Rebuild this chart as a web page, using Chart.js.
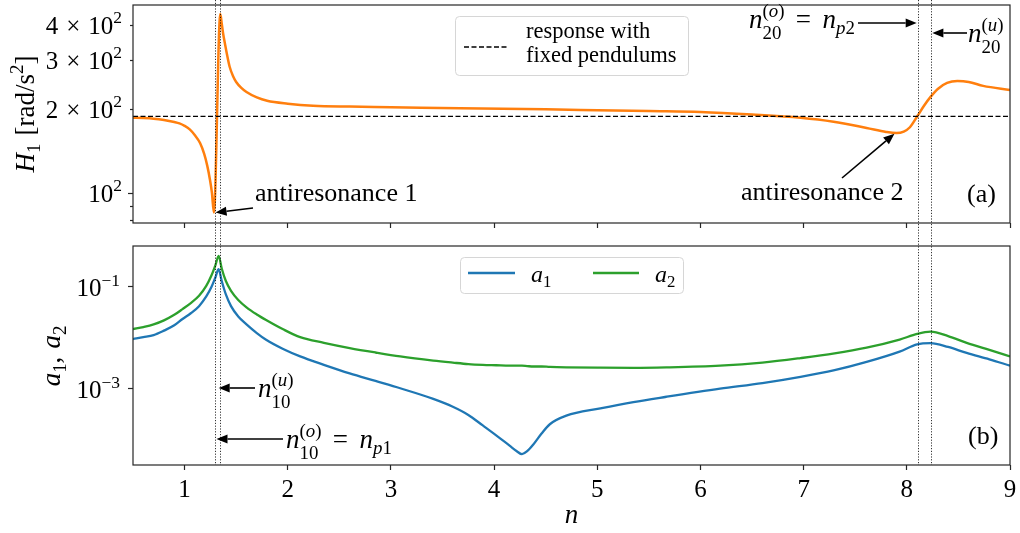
<!DOCTYPE html>
<html>
<head>
<meta charset="utf-8">
<script src="https://cdn.jsdelivr.net/npm/chart.js@4.4.1/dist/chart.umd.min.js"></script>
<style>
  html, body { margin: 0; padding: 0; background: #fff; }
  #wrap { position: relative; width: 1020px; height: 533px; }
  #wrap canvas { position: absolute; left: 0; top: 0; }
</style>
</head>
<body>
<div id="wrap">
  <canvas id="top" width="1020" height="533"></canvas>
  <canvas id="bot" width="1020" height="533"></canvas>
</div>
<script>
// (a) H1 response
const nH1 = [0.5, 0.6, 0.7, 0.8, 0.9, 0.95, 1.0, 1.05, 1.1, 1.15, 1.19, 1.22, 1.245, 1.265, 1.284,
  1.346, 1.36, 1.375, 1.39, 1.41, 1.436, 1.47, 1.5, 1.55, 1.6, 1.7, 1.8, 2.0, 2.245, 2.6, 3.0, 3.67,
  4.5, 5.0, 5.5, 6.0, 6.5, 6.97, 7.29, 7.61, 7.8, 7.9, 7.97, 8.03, 8.1, 8.165, 8.23, 8.3, 8.39, 8.49,
  8.6, 8.74, 9.0];
const h1Vals = [186, 185.5, 184.5, 182.5, 179.5, 177.5, 174, 169, 161, 151, 138, 125, 112, 100, 85,
  438, 405, 370, 345, 315, 284, 262, 250, 238, 230, 220, 214, 209, 205.5, 204, 203, 201,
  199.5, 198, 196.5, 195, 191, 186, 180, 171, 165.5, 164, 166, 172, 188, 205, 221, 236, 248, 252,
  250, 242, 234];
const fixedN = [0.5, 9];
const fixedH = [188, 188];

// (b) amplitudes
const nA = [0.5, 0.6, 0.7, 0.8, 0.9, 0.98, 1.06, 1.14, 1.21, 1.26, 1.30, 1.33, 1.36, 1.40, 1.45, 1.52,
  1.6, 1.7, 1.79, 1.95, 2.12, 2.35, 2.6, 2.85, 3.09, 3.41, 3.6, 3.75, 3.89, 4.02, 4.15, 4.22, 4.27,
  4.32, 4.38, 4.46, 4.54, 4.70, 5.03, 5.35, 5.67, 6.19, 6.6, 6.97, 7.3, 7.61, 7.93, 8.1, 8.23, 8.4,
  8.58, 8.8, 9.0];
const a1Vals = [0.0090, 0.0098, 0.0108, 0.0132, 0.0168, 0.0224, 0.029, 0.040, 0.062, 0.095, 0.15, 0.214,
  0.125, 0.068, 0.040, 0.025, 0.0175, 0.0118, 0.0087, 0.0058, 0.0041, 0.0028, 0.0019, 0.00135, 0.00097,
  0.00060, 0.00042, 0.00029, 0.00018, 0.000115, 0.000072, 0.000056, 0.000049, 0.000056, 0.000076,
  0.000125, 0.00019, 0.00028, 0.00039, 0.00052, 0.00066, 0.00095, 0.00122, 0.00162, 0.0022, 0.0032,
  0.0051, 0.0071, 0.0075, 0.0063, 0.0048, 0.0036, 0.0027];
const a2Vals = [0.0141, 0.0155, 0.0175, 0.021, 0.027, 0.035, 0.046, 0.064, 0.10, 0.16, 0.26, 0.39,
  0.22, 0.125, 0.080, 0.053, 0.038, 0.0275, 0.0214, 0.0142, 0.0098, 0.0076, 0.0060, 0.0049, 0.0041,
  0.0034, 0.0031, 0.0029, 0.0028, 0.00275, 0.0027, 0.0027, 0.0027, 0.00265, 0.0026, 0.0026, 0.00255,
  0.0025, 0.00246, 0.00245, 0.0025, 0.0027, 0.0031, 0.0038, 0.0047, 0.0061, 0.0088, 0.0114, 0.0126,
  0.0103, 0.0076, 0.0055, 0.0041];

// ticks and markers
const xTicks = [1, 2, 3, 4, 5, 6, 7, 8, 9];
const topMajor = [100];
const topMinor = [80, 90, 200, 300, 400];
const topLabels = [100, 200, 300, 400];
const botMajor = [0.1, 0.001];
const markN = [1.29, 1.34, 8.105, 8.233];

const FONT = '"Liberation Serif", "DejaVu Serif", serif';
const FS = 25;   // tick labels
const FA = 27;   // axis labels and math annotations

// little math text helper: parts with italic / sub / sup
const R = (t, o) => Object.assign({ t }, o);
const I = t => ({ t, i: true });
const Sb = (t, o) => Object.assign({ t, s: 0.7, dy: 0.22 }, o);
const Sp = (t, o) => Object.assign({ t, s: 0.7, dy: -0.42 }, o);

function layoutMath(ctx, parts, fs) {
  let cur = 0, markX = 0, saved = 0;
  const items = [];
  parts.forEach(p => {
    if (p.back) { saved = cur; cur = markX; }
    if (p.mark) markX = cur;
    cur += (p.pl || 0) * fs;
    const font = (p.i ? 'italic ' : '') + (fs * (p.s || 1)).toFixed(1) + 'px ' + FONT;
    ctx.font = font;
    const w = ctx.measureText(p.t).width;
    items.push({ t: p.t, font, x: cur, dy: (p.dy || 0) * fs });
    cur += w + (p.pr || 0) * fs;
    if (p.end) cur = Math.max(cur, saved);
  });
  return { items, width: cur };
}

function drawMath(ctx, parts, x, y, fs, align, rot) {
  const L = layoutMath(ctx, parts, fs);
  const x0 = align === 'center' ? -L.width / 2 : align === 'right' ? -L.width : 0;
  ctx.save();
  ctx.translate(x, y);
  if (rot) ctx.rotate(rot);
  ctx.fillStyle = '#000';
  ctx.textAlign = 'left';
  ctx.textBaseline = 'alphabetic';
  L.items.forEach(it => { ctx.font = it.font; ctx.fillText(it.t, x0 + it.x, it.dy); });
  ctx.restore();
}

function arrow(ctx, x1, y1, x2, y2) {
  const a = Math.atan2(y2 - y1, x2 - x1), hl = 11, hw = 4.5;
  const bx = x2 - hl * Math.cos(a), by = y2 - hl * Math.sin(a);
  ctx.save();
  ctx.strokeStyle = '#000';
  ctx.fillStyle = '#000';
  ctx.lineWidth = 1.6;
  ctx.beginPath(); ctx.moveTo(x1, y1); ctx.lineTo(bx, by); ctx.stroke();
  ctx.beginPath();
  ctx.moveTo(x2, y2);
  ctx.lineTo(bx + hw * Math.sin(a), by - hw * Math.cos(a));
  ctx.lineTo(bx - hw * Math.sin(a), by + hw * Math.cos(a));
  ctx.closePath(); ctx.fill();
  ctx.restore();
}

function frame(ctx, a) {
  ctx.save();
  ctx.strokeStyle = '#262626';
  ctx.lineWidth = 1.2;
  ctx.strokeRect(a.left, a.top, a.right - a.left, a.bottom - a.top);
  ctx.restore();
}

function yTick(ctx, a, y, len) {
  ctx.save();
  ctx.strokeStyle = '#262626';
  ctx.lineWidth = 1.2;
  ctx.beginPath(); ctx.moveTo(a.left - len, Math.round(y) + 0.5); ctx.lineTo(a.left, Math.round(y) + 0.5); ctx.stroke();
  ctx.restore();
}

function legendBox(ctx, x, y, w, h) {
  ctx.save();
  ctx.beginPath();
  ctx.roundRect(x + 0.5, y + 0.5, w, h, 4);
  ctx.fillStyle = 'rgba(255,255,255,0.8)';
  ctx.fill();
  ctx.strokeStyle = '#d6d6d6';
  ctx.lineWidth = 1;
  ctx.stroke();
  ctx.restore();
}

function sample(ctx, x1, x2, y, color, width, dash) {
  ctx.save();
  ctx.strokeStyle = color;
  ctx.lineWidth = width;
  ctx.setLineDash(dash || []);
  ctx.beginPath(); ctx.moveTo(x1, y); ctx.lineTo(x2, y); ctx.stroke();
  ctx.restore();
}

// n_{sub}^{(sup)} with optional " = n_{p k}"
function nLabel(sub, sup, pk) {
  const parts = [I('n'), Sb(sub, { dy: 0.42, mark: true }), Sp('(', { back: true }), Sp(sup, { i: true }), Sp(')', { end: true })];
  if (pk) parts.push(R('=', { pl: 0.42, pr: 0.42 }), I('n'), Sb('p', { i: true }), Sb(pk));
  return parts;
}

function xAxis(h) {
  return {
    type: 'linear', min: 0.5, max: 9,
    afterBuildTicks: s => { s.ticks = xTicks.map(v => ({ value: v })); },
    afterFit: s => { s.height = h; },
    ticks: { display: false },
    grid: { drawOnChartArea: false, drawTicks: true, tickLength: 5, tickColor: '#262626', tickWidth: 1.2 },
    border: { display: false }
  };
}

function yAxis(min, max) {
  return {
    type: 'logarithmic', min, max, bounds: 'data',
    afterFit: s => { s.width = 133; },
    ticks: { display: false },
    grid: { display: false },
    border: { display: false }
  };
}

const topDeco = {
  id: 'topDeco',
  afterDraw(chart) {
    const ctx = chart.ctx, a = chart.chartArea, xs = chart.scales.x, ys = chart.scales.y;
    frame(ctx, a);
    topMajor.forEach(v => yTick(ctx, a, ys.getPixelForValue(v), 5));
    topMinor.forEach(v => yTick(ctx, a, ys.getPixelForValue(v), 3));
    topLabels.forEach(v => {
      const m = v / 100;
      const parts = m === 1 ? [R('10'), Sp('2')] : [R(String(m)), R('×', { pl: 0.32, pr: 0.32 }), R('10'), Sp('2')];
      drawMath(ctx, parts, 122, ys.getPixelForValue(v) + 8.7, FS, 'right');
    });
    drawMath(ctx, [I('H'), Sb('1'), R('[rad/s', { pl: 0.3 }), Sp('2'), R(']')], 34, (a.top + a.bottom) / 2, FA, 'center', -Math.PI / 2);

    // legend
    legendBox(ctx, 455, 16, 233, 59);
    sample(ctx, 464, 508, 47, '#000', 1.3, [5, 2.5]);
    ctx.save();
    ctx.fillStyle = '#000';
    ctx.font = '22.5px ' + FONT;
    ctx.fillText('response with', 526, 38);
    ctx.fillText('fixed pendulums', 526, 62);
    ctx.restore();

    // annotations
    ctx.save();
    ctx.fillStyle = '#000';
    ctx.font = '26px ' + FONT;
    ctx.fillText('antiresonance 1', 255, 201);
    ctx.fillText('antiresonance 2', 741, 200);
    ctx.fillText('(a)', 967, 202);
    ctx.restore();
    arrow(ctx, 253, 208, xs.getPixelForValue(1.30), ys.getPixelForValue(85));
    arrow(ctx, 842, 178, xs.getPixelForValue(7.88), ys.getPixelForValue(163));

    drawMath(ctx, nLabel('20', 'o', '2'), 749, 28, FA, 'left');
    arrow(ctx, 858, 23, xs.getPixelForValue(8.105) - 1, 23);
    drawMath(ctx, nLabel('20', 'u'), 968, 42, FA, 'left');
    arrow(ctx, 967, 33, xs.getPixelForValue(8.233) + 1.5, 33);
  }
};

const botDeco = {
  id: 'botDeco',
  afterDraw(chart) {
    const ctx = chart.ctx, a = chart.chartArea, xs = chart.scales.x, ys = chart.scales.y;
    frame(ctx, a);
    botMajor.forEach(v => {
      const y = ys.getPixelForValue(v);
      yTick(ctx, a, y, 5);
      drawMath(ctx, [R('10'), Sp('−' + Math.round(-Math.log10(v)))], 120, y + 10.5, FS, 'right');
    });
    drawMath(ctx, [I('a'), Sb('1'), R(','), I('a', {}), Sb('2')].map((p, i) => i === 3 ? Object.assign(p, { pl: 0.3 }) : p),
      60, 356, FA, 'center', -Math.PI / 2);

    // x tick labels and title
    ctx.save();
    ctx.fillStyle = '#000';
    ctx.font = FS + 'px ' + FONT;
    ctx.textAlign = 'center';
    xs.ticks.forEach(t => ctx.fillText(String(t.value), xs.getPixelForValue(t.value), 497));
    ctx.font = 'italic 27px ' + FONT;
    ctx.fillText('n', (a.left + a.right) / 2, 523);
    ctx.restore();

    // legend
    legendBox(ctx, 460, 257, 223, 36);
    sample(ctx, 468, 515, 273, '#1f77b4', 2.3);
    sample(ctx, 593, 639, 273, '#2ca02c', 2.3);
    drawMath(ctx, [I('a'), Sb('1')], 531, 282, 24, 'left');
    drawMath(ctx, [I('a'), Sb('2')], 655, 282, 24, 'left');

    // annotations
    ctx.save();
    ctx.fillStyle = '#000';
    ctx.font = '26px ' + FONT;
    ctx.fillText('(b)', 968, 444);
    ctx.restore();
    drawMath(ctx, nLabel('10', 'u'), 258, 397, FA, 'left');
    arrow(ctx, 255, 388, xs.getPixelForValue(1.34) - 1, 388);
    drawMath(ctx, nLabel('10', 'o', '1'), 286, 448, FA, 'left');
    arrow(ctx, 283, 439, xs.getPixelForValue(1.29) + 2, 439);

    // dotted markers through both panels
    ctx.save();
    ctx.strokeStyle = 'rgba(0,0,0,0.8)';
    ctx.lineWidth = 1;
    ctx.setLineDash([1.2, 1.6]);
    markN.forEach(n => {
      const x = Math.round(xs.getPixelForValue(n)) + 0.5;
      ctx.beginPath(); ctx.moveTo(x, 0); ctx.lineTo(x, a.bottom); ctx.stroke();
    });
    ctx.restore();
  }
};

const base = {
  responsive: false,
  animation: false,
  events: [],
  plugins: { legend: { display: false }, tooltip: { enabled: false } }
};

new Chart(document.getElementById('top'), {
  type: 'line',
  data: {
    datasets: [
      { data: fixedN.map((n, i) => ({ x: n, y: fixedH[i] })), borderColor: '#000', borderWidth: 1.3,
        borderDash: [5, 2.5], pointRadius: 0 },
      { data: nH1.map((n, i) => ({ x: n, y: h1Vals[i] })), borderColor: '#ff7f0e', borderWidth: 2.5,
        pointRadius: 0, cubicInterpolationMode: 'monotone' }
    ]
  },
  options: Object.assign({}, base, {
    layout: { padding: { top: 5, right: 10, left: 0, bottom: 0 } },
    scales: { x: xAxis(310), y: yAxis(78, 472) }
  }),
  plugins: [topDeco]
});

new Chart(document.getElementById('bot'), {
  type: 'line',
  data: {
    datasets: [
      { data: nA.map((n, i) => ({ x: n, y: a1Vals[i] })), borderColor: '#1f77b4', borderWidth: 2.3,
        pointRadius: 0, cubicInterpolationMode: 'monotone' },
      { data: nA.map((n, i) => ({ x: n, y: a2Vals[i] })), borderColor: '#2ca02c', borderWidth: 2.3,
        pointRadius: 0, cubicInterpolationMode: 'monotone' }
    ]
  },
  options: Object.assign({}, base, {
    layout: { padding: { top: 246, right: 10, left: 0, bottom: 0 } },
    scales: { x: xAxis(68), y: yAxis(3.0e-5, 0.61) }
  }),
  plugins: [botDeco]
});
</script>
</body>
</html>
